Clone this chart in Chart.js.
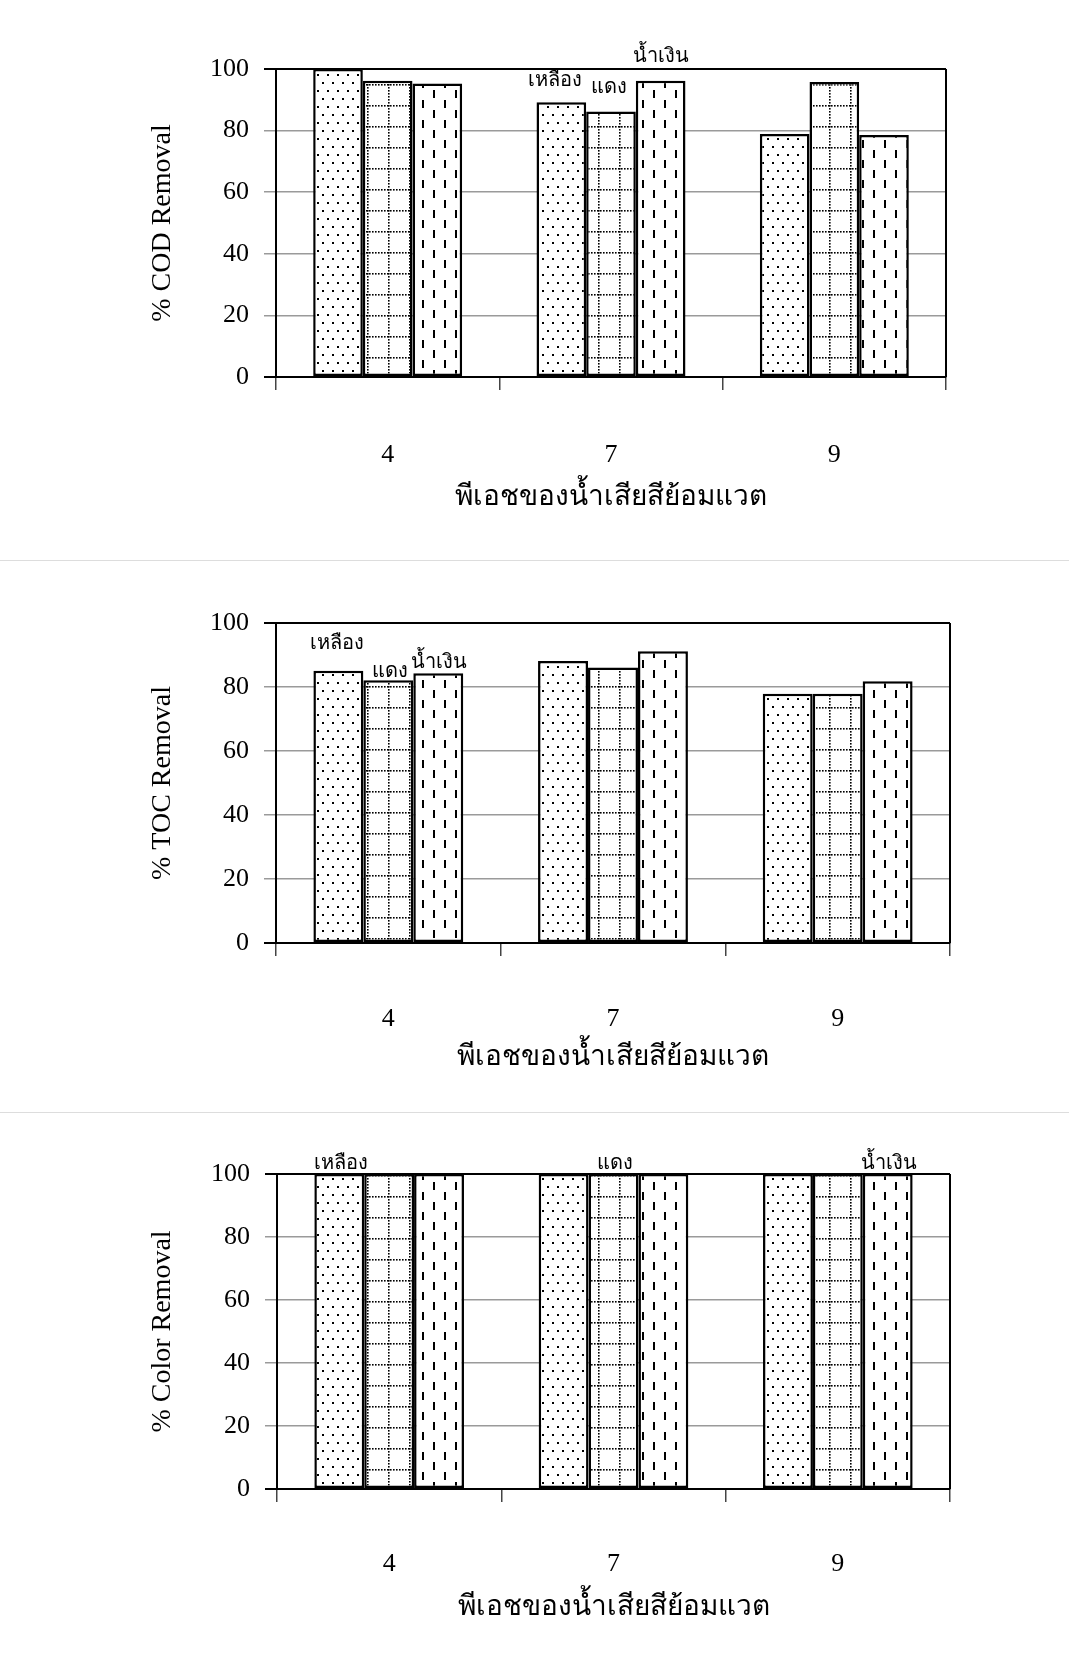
<!DOCTYPE html>
<html>
<head>
<meta charset="utf-8">
<script src="https://cdn.jsdelivr.net/npm/chart.js@4.4.1/dist/chart.umd.min.js"></script>
<style>
  body { margin: 0; background: #fff; width: 1069px; height: 1661px; overflow: hidden; position: relative; }
  canvas { position: absolute; left: 0; }
  .sep { position: absolute; left: 0; width: 1069px; height: 1px; background: #ddd; }
</style>
</head>
<body>
<canvas id="cod" width="1069" height="560" style="top:0px"></canvas>
<div class="sep" style="top:560px"></div>
<canvas id="toc" width="1069" height="552" style="top:560px"></canvas>
<div class="sep" style="top:1112px"></div>
<canvas id="color" width="1069" height="549" style="top:1112px"></canvas>
<script>
const phLabels = ['4', '7', '9'];
const seriesNames = ['เหลือง', 'แดง', 'น้ำเงิน'];
const xTitle = 'พีเอชของน้ำเสียสีย้อมแวต';

const codYellow = [100, 89.2, 78.9];
const codRed = [96.2, 86.2, 95.8];
const codBlue = [95.3, 96.2, 78.6];

const tocYellow = [85.1, 88.1, 77.9];
const tocRed = [82.1, 86.1, 77.9];
const tocBlue = [84.3, 91.2, 81.8];

const colorYellow = [100, 100, 100];
const colorRed = [100, 100, 100];
const colorBlue = [100, 100, 100];

const serif = '"Liberation Serif", "Times New Roman", serif';

// hatch fills: dots, dotted grid, dashed columns
function makePattern(kind) {
  const c = document.createElement('canvas');
  const g = c.getContext('2d');
  if (kind === 'dots') {
    c.width = 10; c.height = 16;
    g.fillStyle = '#fff'; g.fillRect(0, 0, 10, 16);
    g.fillStyle = '#000';
    g.fillRect(2, 2, 2, 2);
    g.fillRect(7, 10, 2, 2);
  } else if (kind === 'grid') {
    c.width = 21; c.height = 21;
    g.fillStyle = '#fff'; g.fillRect(0, 0, 21, 21);
    g.fillStyle = '#000';
    for (let k = 0; k < 21; k += 3) {
      g.fillRect(k, 0, 1.6, 1.6);
      g.fillRect(10, k, 1.6, 1.6);
    }
  } else {
    c.width = 22; c.height = 20;
    g.fillStyle = '#fff'; g.fillRect(0, 0, 22, 20);
    g.fillStyle = '#000';
    g.fillRect(4, 0, 2, 8);
    g.fillRect(15, 10, 2, 8);
  }
  return g.createPattern(c, 'repeat');
}
const fills = [makePattern('dots'), makePattern('grid'), makePattern('dash')];

const frame = {
  id: 'frame',
  beforeDatasetsDraw(chart) {
    const a = chart.chartArea, ctx = chart.ctx;
    ctx.save();
    ctx.strokeStyle = '#000';
    ctx.lineWidth = 2;
    ctx.beginPath();
    ctx.moveTo(a.right, a.top);
    ctx.lineTo(a.right, a.bottom);
    ctx.stroke();
    ctx.restore();
  }
};

const barNames = {
  id: 'barNames',
  afterDatasetsDraw(chart, args, o) {
    const ctx = chart.ctx;
    ctx.save();
    ctx.font = '20px ' + serif;
    ctx.fillStyle = '#000';
    ctx.textAlign = 'center';
    ctx.textBaseline = 'alphabetic';
    o.items.forEach(it => {
      const el = chart.getDatasetMeta(it.s).data[it.c];
      ctx.fillText(seriesNames[it.s], el.x + it.dx, el.y + it.dy);
    });
    ctx.restore();
  }
};

function drawChart(id, yTitle, series, L) {
  new Chart(document.getElementById(id), {
    type: 'bar',
    data: {
      labels: phLabels,
      datasets: series.map((v, i) => ({
        label: seriesNames[i],
        data: v,
        backgroundColor: fills[i],
        borderColor: '#000',
        borderWidth: 2.5,
        borderSkipped: false,
        categoryPercentage: 0.667,
        barPercentage: 1
      }))
    },
    options: {
      responsive: false,
      animation: false,
      devicePixelRatio: 1,
      layout: { padding: { top: L.top, right: 1069 - L.right, bottom: 0, left: 0 } },
      plugins: {
        legend: { display: false },
        tooltip: { enabled: false },
        barNames: { items: L.names }
      },
      scales: {
        x: {
          grid: { drawOnChartArea: false, tickLength: 13, color: '#444', lineWidth: 1.5 },
          border: { color: '#000', width: 2 },
          ticks: { color: '#000', font: { family: serif, size: 26 }, padding: L.labelPad },
          title: {
            display: true, text: xTitle, color: '#000',
            font: { family: serif, size: 28 },
            padding: { top: 0, bottom: L.titlePad }
          },
          afterFit: s => { s.height = L.h - L.bottom; }
        },
        y: {
          min: 0, max: 100,
          grid: {
            tickLength: 12,
            color: c => (c.tick.value === 0 || c.tick.value === 100) ? '#000' : '#9a9a9a',
            lineWidth: c => (c.tick.value === 0 || c.tick.value === 100) ? 2 : 1.5
          },
          border: { color: '#000', width: 2 },
          ticks: { stepSize: 20, color: '#000', font: { family: serif, size: 26 }, padding: 15 },
          title: {
            display: true, text: yTitle, color: '#000',
            font: { family: serif, size: 28 },
            padding: { top: 146, bottom: 0 }
          },
          afterFit: s => { s.width = L.left; }
        }
      }
    },
    plugins: [frame, barNames]
  });
}

drawChart('cod', '% COD Removal', [codYellow, codRed, codBlue], {
  h: 560, top: 69, bottom: 377, left: 276, right: 946, labelPad: 50, titlePad: 46,
  names: [{ s: 0, c: 1, dx: -6, dy: -16 }, { s: 1, c: 1, dx: -2, dy: -19 }, { s: 2, c: 1, dx: 0, dy: -19 }]
});
drawChart('toc', '% TOC Removal', [tocYellow, tocRed, tocBlue], {
  h: 552, top: 63, bottom: 383, left: 276, right: 950, labelPad: 48, titlePad: 38,
  names: [{ s: 0, c: 0, dx: -1, dy: -22 }, { s: 1, c: 0, dx: 2, dy: -3 }, { s: 2, c: 0, dx: 1, dy: -5 }]
});
drawChart('color', '% Color Removal', [colorYellow, colorRed, colorBlue], {
  h: 549, top: 62, bottom: 377, left: 277, right: 950, labelPad: 47, titlePad: 37,
  names: [{ s: 0, c: 0, dx: 2, dy: -5 }, { s: 1, c: 1, dx: 1, dy: -5 }, { s: 2, c: 2, dx: 1, dy: -5 }]
});
</script>
</body>
</html>
